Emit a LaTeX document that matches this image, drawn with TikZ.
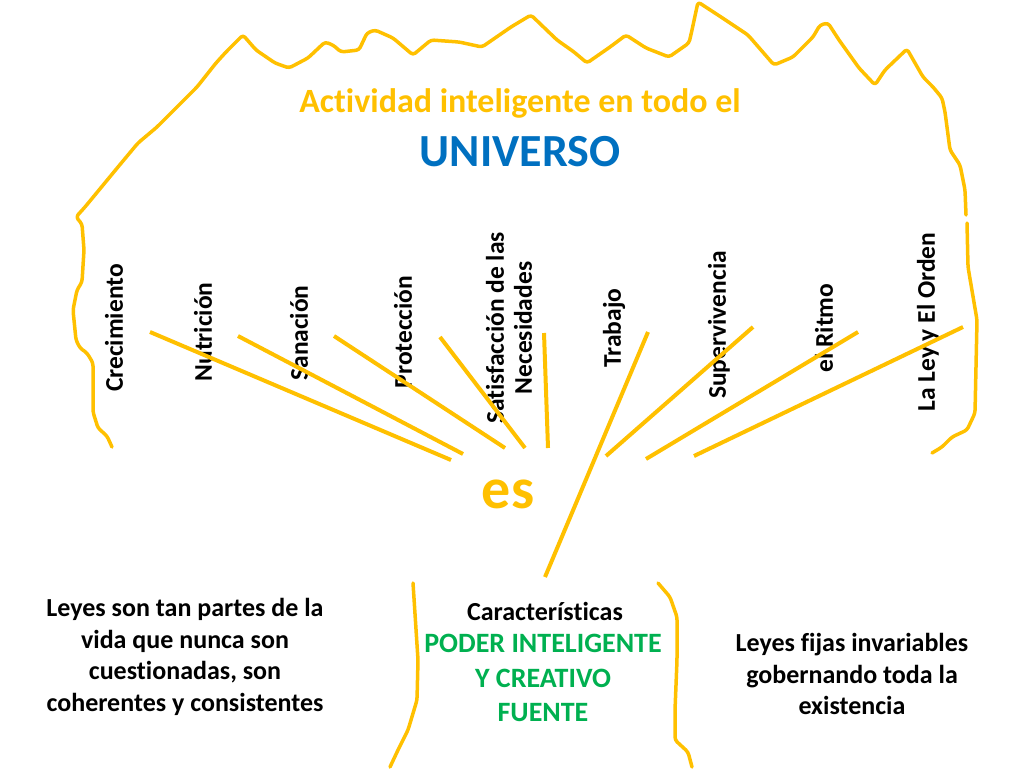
\documentclass[tikz,border=0pt]{standalone}
\usepackage{fontspec}
\setmainfont{Carlito}[Ligatures=NoCommon]
\usepackage{xcolor}
\usepackage{tikz}
\definecolor{oro}{HTML}{FFC000}
\definecolor{azul}{HTML}{0070C0}
\definecolor{verde}{HTML}{00B050}
\tikzset{
  borde/.style={draw=oro, line width=3.5pt, line join=round, line cap=round, rounded corners=3pt},
  rayo/.style={draw=oro, line width=4pt},
  etiqueta/.style={rotate=90, font=\fontsize{25.5}{28}\selectfont\bfseries, align=center, inner sep=0pt},
  texto/.style={font=\fontsize{26}{31.7}\selectfont\bfseries, align=center, inner sep=0pt}
}
\begin{document}
\begin{tikzpicture}[x=1pt, y=-1pt]
\useasboundingbox (0,0) rectangle (1024,768);

\draw[borde] (112,447)--(107,436)--(98,428)--(93,412)--(93,363)--(87,353)--(80,348)--(76,340)--(73,310)--(77,290)--(82,282)--(84,250)--(82,224)--(76,217)--(85,207)--(118,167)--(138,143)--(157,127)--(174,110)--(197,87)--(216,63)--(226,52)--(243,35)--(256,50)--(275,63)--(289,68)--(308,58)--(325,42)--(333,45)--(341,52)--(359,50)--(367,33)--(375,30)--(393,38)--(413,55)--(431,40)--(459,42)--(482,47)--(511,27)--(531,15)--(557,40)--(574,52)--(587,63)--(610,47)--(626,35)--(646,48)--(669,57)--(689,43)--(692,30)--(698,2)--(721,17)--(748,35)--(774,65)--(793,57)--(813,37)--(820,25)--(828,23)--(839,40)--(859,68)--(875,85)--(885,70)--(907,49)--(923,77)--(933,87)--(942,98)--(945,112)--(950,150)--(960,165)--(965,190)--(966,215);
\draw[borde] (967,223)--(968,267)--(977,320)--(975,413)--(967,430)--(952,437)--(942,447)--(932,453);
\draw[borde] (413,583)--(418,660)--(417,700)--(408,730)--(398,750)--(390,767);
\draw[borde] (658,583)--(670,597)--(677,617)--(677,660)--(675,710)--(675,740)--(688,752)--(692,767);

\node[texto, text=oro, font=\fontsize{34}{40}\selectfont\bfseries] (actividad) at (520,103) {Actividad inteligente en todo el};
\node[texto, text=azul, font=\fontsize{46}{52}\selectfont\bfseries] (universo) at (520,152) {UNIVERSO};

\node[etiqueta] (crecimiento) at (114,328) {Crecimiento};
\node[etiqueta] (nutricion) at (203,332) {Nutrición};
\node[etiqueta] (sanacion) at (299,333) {Sanación};
\node[etiqueta] (proteccion) at (403,332) {Protección};
\node[etiqueta] (necesidades) at (509,328) {Satisfacción de las\\Necesidades};
\node[etiqueta] (trabajo) at (614,328) {Trabajo};
\node[etiqueta] (supervivencia) at (719,325) {Supervivencia};
\node[etiqueta] (ritmo) at (824,328) {el Ritmo};
\node[etiqueta] (orden) at (928,322) {La Ley y El Orden};

\draw[rayo] (150,332)--(451,460);
\draw[rayo] (238,336)--(463,454);
\draw[rayo] (334,336)--(505,448);
\draw[rayo] (440,337)--(525,448);
\draw[rayo] (544,333)--(548,448);
\draw[rayo] (648,332)--(545,577);
\draw[rayo] (753,327)--(606,456);
\draw[rayo] (858,332)--(646,459);
\draw[rayo] (963,327)--(694,456);

\node[texto, text=oro, font=\fontsize{58}{60}\selectfont\bfseries] (es) at (508,494) {es};

\node[texto] (leyes) at (185,657) {Leyes son tan partes de la\\vida que nunca son\\cuestionadas, son\\coherentes y consistentes};
\node[texto] (caracteristicas) at (545,611) {Características};
\node[texto, text=verde, font=\fontsize{28}{34.5}\selectfont\bfseries] (poder) at (543,678) {PODER INTELIGENTE\\Y CREATIVO\\FUENTE};
\node[texto] (fijas) at (852,674) {Leyes fijas invariables\\gobernando toda la\\existencia};
\end{tikzpicture}
\end{document}
